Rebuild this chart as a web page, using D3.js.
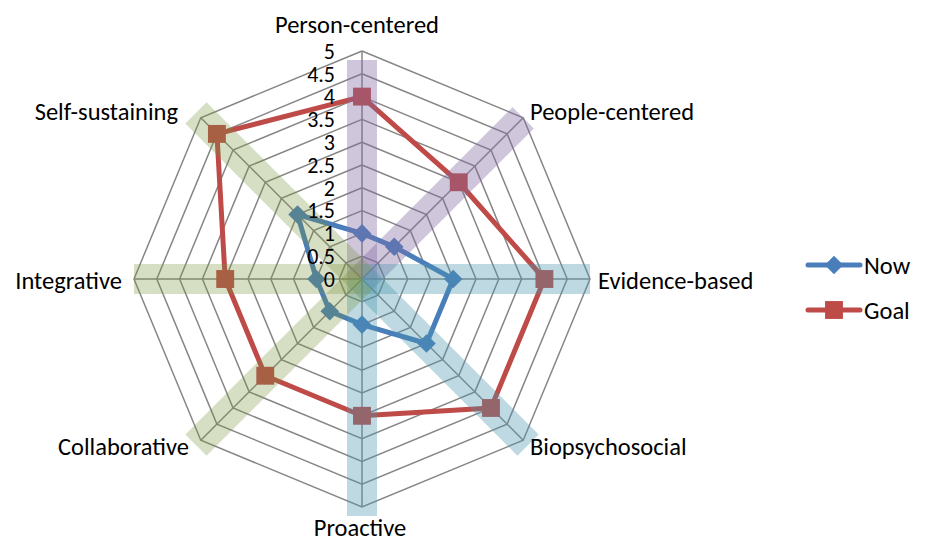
<!DOCTYPE html>
<html>
<head>
<meta charset="utf-8">
<script src="https://cdn.jsdelivr.net/npm/d3@7"></script>
<style>
  html, body { margin: 0; padding: 0; background: #fff; }
  text { font-family: Carlito, Lato, "Open Sans", sans-serif; fill: #000; }
</style>
</head>
<body>
<svg id="chart" width="925" height="545"></svg>
<script>
// Axes of the radar, clockwise from the top
const categories = ["Person-centered", "People-centered", "Evidence-based", "Biopsychosocial",
                    "Proactive", "Collaborative", "Integrative", "Self-sustaining"];
const nowValues  = [1, 1, 2, 2, 1, 1, 1, 2];
const goalValues = [4, 3, 4, 4, 3, 3, 3, 4.5];
const tickValues = [0, 0.5, 1, 1.5, 2, 2.5, 3, 3.5, 4, 4.5, 5];
const seriesNames = ["Now", "Goal"];
// Highlight group for each axis band
const bandGroups = ["purple", "purple", "blue", "blue", "blue", "green", "green", "green"];
const bandExtent = [0.96, 1.0, 1.0, 1.03, 1.04, 1.03, 1.0, 1.03];

const svg = d3.select("#chart");
const cx = 362, cy = 279, R = 228;
const n = categories.length;
const labelSize = 24.5;
const tickSize = 22;

const r = d3.scaleLinear().domain([0, 5]).range([0, R]);
const angle = d3.scaleLinear().domain([0, n]).range([0, 2 * Math.PI]);
const px = (i, v) => cx + r(v) * Math.sin(angle(i));
const py = (i, v) => cy - r(v) * Math.cos(angle(i));

const grid = svg.append("g");
// Rings
tickValues.filter(t => t > 0).forEach(t => {
  grid.append("path")
    .attr("d", d3.line()(d3.range(n + 1).map(i => [px(i % n, t), py(i % n, t)])))
    .attr("fill", "none").attr("stroke", "#868686").attr("stroke-width", 1.5);
});
// Spokes
categories.forEach((c, i) => {
  grid.append("line")
    .attr("x1", cx).attr("y1", cy)
    .attr("x2", px(i, 5)).attr("y2", py(i, 5))
    .attr("stroke", "#868686").attr("stroke-width", 1.5);
});

// Series
const colors = { Now: "#4a7ebb", Goal: "#be4b48" };
const seriesData = { Now: nowValues, Goal: goalValues };
const symbolFor = name => name === "Now"
  ? d3.symbol().type(d3.symbolDiamond2).size(220)
  : d3.symbol().type(d3.symbolSquare).size(320);
seriesNames.forEach(name => {
  const vals = seriesData[name];
  const pts = vals.map((v, i) => [px(i, v), py(i, v)]);
  svg.append("path")
    .attr("d", d3.line()(pts.concat([pts[0]])))
    .attr("fill", "none").attr("stroke", colors[name])
    .attr("stroke-width", 5).attr("stroke-linejoin", "round");
  svg.append("g").selectAll("path").data(pts).join("path")
    .attr("d", symbolFor(name))
    .attr("transform", d => `translate(${d[0]},${d[1]})`)
    .attr("fill", colors[name]);
});

// Translucent highlight bands over each axis
const bandColors = {
  purple: "rgba(128,105,160,0.38)",
  blue: "rgba(75,150,172,0.36)",
  green: "rgba(119,147,60,0.30)"
};
categories.forEach((c, i) => {
  svg.append("line")
    .attr("x1", px(i, 0)).attr("y1", py(i, 0))
    .attr("x2", px(i, 5 * bandExtent[i])).attr("y2", py(i, 5 * bandExtent[i]))
    .attr("stroke", bandColors[bandGroups[i]])
    .attr("stroke-width", 30).attr("stroke-linecap", "butt");
});

// Value labels along the top spoke
svg.append("g").selectAll("text").data(tickValues).join("text")
  .attr("x", 335).attr("y", d => cy - r(d))
  .attr("dy", "0.35em").attr("text-anchor", "end")
  .attr("font-size", tickSize)
  .text(d => d);

// Axis labels
const labelPos = [
  { x: 357, y: 24, a: "middle" },
  { x: 530, y: 111, a: "start" },
  { x: 598, y: 280, a: "start" },
  { x: 530, y: 446, a: "start" },
  { x: 360, y: 527, a: "middle" },
  { x: 189, y: 446, a: "end" },
  { x: 122, y: 280, a: "end" },
  { x: 178, y: 111, a: "end" }
];
svg.append("g").selectAll("text").data(categories).join("text")
  .attr("x", (d, i) => labelPos[i].x).attr("y", (d, i) => labelPos[i].y)
  .attr("dy", "0.35em").attr("text-anchor", (d, i) => labelPos[i].a)
  .attr("font-size", labelSize)
  .text(d => d);

// Legend
const legend = svg.append("g");
seriesNames.forEach((name, k) => {
  const y = 265 + k * 45;
  legend.append("line").attr("x1", 808).attr("x2", 860).attr("y1", y).attr("y2", y)
    .attr("stroke", colors[name]).attr("stroke-width", 5).attr("stroke-linecap", "round");
  legend.append("path")
    .attr("d", symbolFor(name)())
    .attr("transform", `translate(834,${y})`).attr("fill", colors[name]);
  legend.append("text").attr("x", 864).attr("y", y).attr("dy", "0.35em")
    .attr("font-size", labelSize).text(name);
});
</script>
</body>
</html>
